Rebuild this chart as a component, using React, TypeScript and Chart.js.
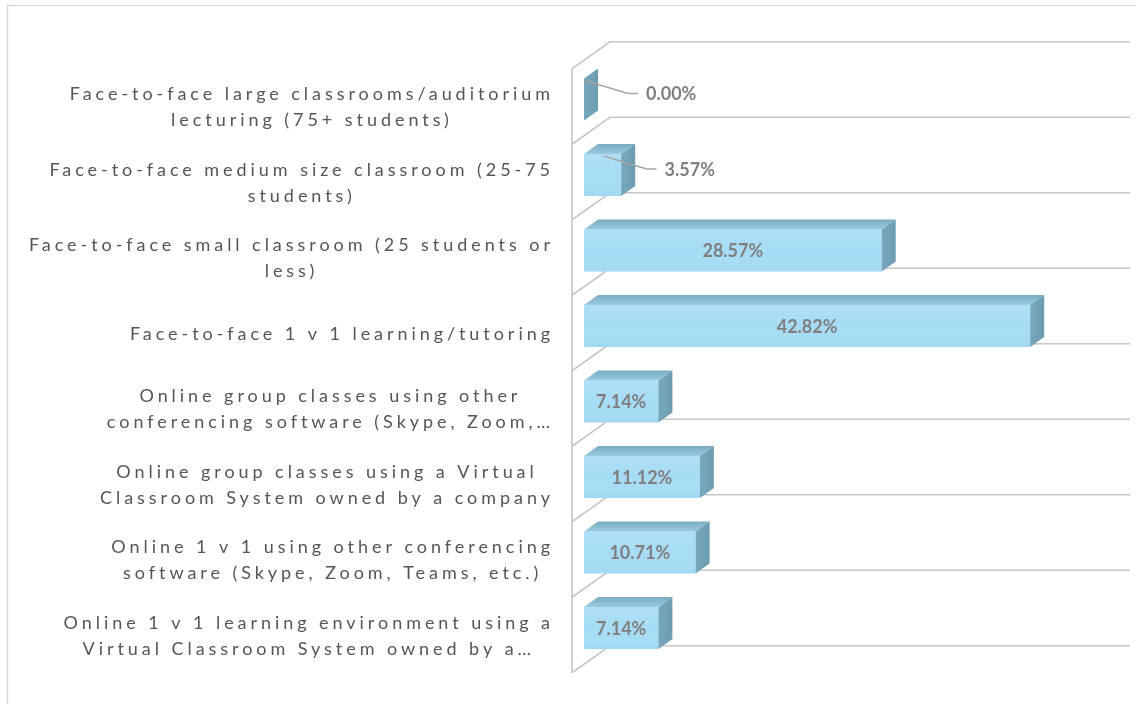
import { useEffect, useRef } from "react";
import { Chart, registerables } from "chart.js";

Chart.register(...registerables);

const categoryLines: string[][] = [
  ["Face-to-face large classrooms/auditorium", "lecturing (75+ students)"],
  ["Face-to-face medium size classroom (25-75", "students)"],
  ["Face-to-face small classroom (25 students or", "less)"],
  ["Face-to-face 1 v 1 learning/tutoring"],
  ["Online group classes using other", "conferencing software (Skype, Zoom,…"],
  ["Online group classes using a Virtual", "Classroom System owned by a company"],
  ["Online 1 v 1 using other conferencing", "software (Skype, Zoom, Teams, etc.)"],
  ["Online 1 v 1 learning environment using a", "Virtual Classroom System owned by a…"],
];
const categories = categoryLines.map((l) => l.join(" "));
const values = [0.0, 3.57, 28.57, 42.82, 7.14, 11.12, 10.71, 7.14];
const axisMin = 0;
const axisMax = 50;

// style constants
const WALL_DX = 38;
const WALL_DY = 27;
const BAR_DX = 14;
const BAR_DY = 10;
const FRONT_FACE = "#a6dcf6";
const SIDE_FACE = "#6c9cb0";
const GRID = "#c6c6c6";
const LABEL_COLOR = "#555555";
const VALUE_COLOR = "#7f7f7f";
const LABEL_FONT = "18px Lato";
const VALUE_FONT = "bold 18px Lato";
const LETTER_SPACING = 3.95;
const LINE_H = 26;

const threeD = {
  id: "threeD",
  beforeDatasetsDraw(chart: any) {
    const { ctx, chartArea, scales } = chart;
    const x = scales.x;
    const y = scales.y;
    const n = categories.length;
    const band = (y.getPixelForValue(n - 1) - y.getPixelForValue(0)) / (n - 1);
    ctx.save();
    // outer chart border
    ctx.strokeStyle = "#d9d9d9";
    ctx.lineWidth = 1.5;
    ctx.strokeRect(7.5, 5.5, 3000, 3000);

    // walls / gridlines
    const frontLeft = chartArea.left - 12;
    const backLeft = frontLeft + WALL_DX;
    const backRight = x.getPixelForValue(axisMax) + 25;
    const backTop = y.getPixelForValue(0) - 20 - band / 2;
    ctx.strokeStyle = GRID;
    ctx.lineWidth = 1.6;
    for (let k = 0; k <= n; k++) {
      const by = backTop + k * band;
      ctx.beginPath();
      ctx.moveTo(frontLeft, by + WALL_DY);
      ctx.lineTo(backLeft, by);
      ctx.lineTo(backRight, by);
      ctx.stroke();
    }
    ctx.beginPath();
    ctx.moveTo(frontLeft, backTop + WALL_DY);
    ctx.lineTo(frontLeft, backTop + n * band + WALL_DY);
    ctx.stroke();

    // category labels
    ctx.font = LABEL_FONT;
    (ctx as any).letterSpacing = LETTER_SPACING + "px";
    ctx.fillStyle = LABEL_COLOR;
    ctx.textBaseline = "middle";
    ctx.textAlign = "left";
    const rightEdge = frontLeft - 22;
    categoryLines.forEach((lines, i) => {
      const cy = y.getPixelForValue(i) + 8;
      const widths = lines.map((l) => ctx.measureText(l).width - LETTER_SPACING);
      const maxW = Math.max(...widths);
      const center = rightEdge - maxW / 2;
      const startY = cy - ((lines.length - 1) * LINE_H) / 2;
      lines.forEach((l, j) => {
        ctx.fillText(l, center - widths[j] / 2, startY + j * LINE_H);
      });
    });
    ctx.restore();
  },
  afterDatasetsDraw(chart: any) {
    const { ctx } = chart;
    const meta = chart.getDatasetMeta(0);
    ctx.save();
    meta.data.forEach((bar: any) => {
      const p = bar.getProps(["x", "y", "base", "height"], true);
      const left = Math.min(p.base, p.x);
      const right = Math.max(p.base, p.x);
      const top = p.y - p.height / 2;
      const bottom = p.y + p.height / 2;
      // front face shading
      const fg = ctx.createLinearGradient(0, top, 0, bottom);
      fg.addColorStop(0, "rgba(255,255,255,0.10)");
      fg.addColorStop(0.5, "rgba(255,255,255,0)");
      fg.addColorStop(1, "rgba(120,190,220,0.12)");
      ctx.fillStyle = fg;
      ctx.fillRect(left, top, right - left, bottom - top);
      // top face
      const tg = ctx.createLinearGradient(0, top - BAR_DY, 0, top);
      tg.addColorStop(0, "#7aacc0");
      tg.addColorStop(1, "#98cbe0");
      ctx.fillStyle = tg;
      ctx.beginPath();
      ctx.moveTo(left, top);
      ctx.lineTo(left + BAR_DX, top - BAR_DY);
      ctx.lineTo(right + BAR_DX, top - BAR_DY);
      ctx.lineTo(right, top);
      ctx.closePath();
      ctx.fill();
      // side face
      const sg = ctx.createLinearGradient(right, 0, right + BAR_DX, 0);
      sg.addColorStop(0, "#78a8bb");
      sg.addColorStop(1, SIDE_FACE);
      ctx.fillStyle = sg;
      ctx.beginPath();
      ctx.moveTo(right, top);
      ctx.lineTo(right + BAR_DX, top - BAR_DY);
      ctx.lineTo(right + BAR_DX, bottom - BAR_DY);
      ctx.lineTo(right, bottom);
      ctx.closePath();
      ctx.fill();
    });

    // value labels
    ctx.font = VALUE_FONT;
    ctx.fillStyle = VALUE_COLOR;
    ctx.textBaseline = "middle";
    meta.data.forEach((bar: any, i: number) => {
      const p = bar.getProps(["x", "y", "base", "height"], true);
      const left = Math.min(p.base, p.x);
      const right = Math.max(p.base, p.x);
      const top = p.y - p.height / 2;
      const text = values[i].toFixed(2) + "%";
      const w = ctx.measureText(text).width;
      if (right - left > w + 8) {
        ctx.textAlign = "center";
        ctx.fillText(text, (left + right) / 2, p.y + 1);
      } else {
        const sx = (left + right) / 2 + 1;
        const sy = top + 2;
        const ex = sx + 43;
        const ey = p.y - 6;
        ctx.strokeStyle = "#a6a6a6";
        ctx.lineWidth = 1.5;
        ctx.beginPath();
        ctx.moveTo(sx, sy);
        ctx.lineTo(ex, ey);
        ctx.lineTo(ex + 10, ey);
        ctx.stroke();
        ctx.textAlign = "left";
        ctx.fillText(text, ex + 18, ey + 1);
      }
    });
    ctx.restore();
  },
};

export default function App() {
  const ref = useRef<HTMLCanvasElement | null>(null);
  useEffect(() => {
    if (!ref.current) return;
    const chart = new Chart(ref.current, {
      type: "bar",
      data: {
        labels: categories,
        datasets: [
          {
            data: values,
            backgroundColor: FRONT_FACE,
            borderWidth: 0,
            barPercentage: 0.556,
            categoryPercentage: 1,
          },
        ],
      },
      options: {
        indexAxis: "y",
        animation: false,
        responsive: false,
        layout: { padding: { left: 584, right: 31, top: 61.75, bottom: 38.25 } },
        plugins: { legend: { display: false }, tooltip: { enabled: false } },
        scales: {
          x: { display: false, min: axisMin, max: axisMax },
          y: { display: false },
        },
      },
      plugins: [threeD],
    });
    return () => chart.destroy();
  }, []);
  return (
    <div style={{ position: "fixed", left: 0, top: 0, width: 1136, height: 704, background: "#fff" }}>
      <canvas ref={ref} width={1136} height={704} style={{ display: "block" }} />
    </div>
  );
}
